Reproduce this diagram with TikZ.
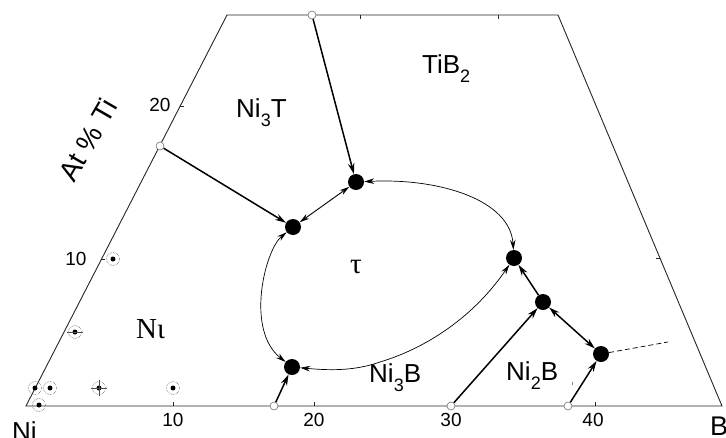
\documentclass[tikz,border=0pt]{standalone}
\usepackage{fontspec}
\setmainfont{Liberation Sans}
\newfontfamily\seriffont{Liberation Serif}
\usetikzlibrary{arrows.meta}

\tikzset{
  frame/.style={draw=black!85, line width=0.9pt},
  tickmark/.style={draw=black!85, line width=0.8pt},
  invariant/.style={circle, fill=black, minimum size=16pt, inner sep=0pt},
  endpt/.style={circle, draw=black!55, fill=white, minimum size=8pt, inner sep=0pt, line width=0.6pt},
  datapt/.style={circle, fill=black, minimum size=5pt, inner sep=0pt},
  halo/.style={circle, draw=black!60, densely dotted, minimum size=13pt, inner sep=0pt, line width=0.6pt},
  valley/.style={line width=1.5pt, -{Stealth[length=11pt,width=6.5pt]}},
  valleyboth/.style={line width=1.5pt, {Stealth[length=11pt,width=6.5pt]}-{Stealth[length=11pt,width=6.5pt]}},
  loopcurve/.style={line width=0.7pt, {Stealth[length=10pt,width=5.5pt]}-{Stealth[length=10pt,width=5.5pt]}},
  phase/.style={font=\fontsize{26}{26}\selectfont, inner sep=0pt, anchor=base west},
  greek/.style={font=\seriffont\fontsize{29}{29}\selectfont, inner sep=0pt, anchor=base west},
  numlab/.style={font=\fontsize{19}{19}\selectfont, inner sep=0pt},
}
% lowered index for phase formulas
\newcommand{\lowidx}[1]{\raisebox{-0.36em}{\fontsize{18}{18}\selectfont #1}}

\begin{document}
\begin{tikzpicture}[x=1pt,y=-1pt]
\useasboundingbox (0,0) rectangle (726,437);

% section outline
\draw[frame] (26,406) -- (722,406) -- (558,15) -- (227,15) -- cycle;

% ticks on the outline
\foreach \tx in {173,314,450,595} \draw[tickmark] (\tx,406) -- (\tx,402);
\foreach \tx in {360,498} \draw[tickmark] (\tx,15) -- (\tx,19);
\draw[tickmark] (101,259) -- (105,259);
\draw[tickmark] (180,106) -- (184,106);
\draw[tickmark] (660,258) -- (656,258);

% scale numbers
\node[numlab] (l10) at (76,259) {10};
\node[numlab] (l20) at (160,105) {20};
\node[numlab] (b10) at (173,420) {10};
\node[numlab] (b20) at (314,420) {20};
\node[numlab] (b30) at (451,420) {30};
\node[numlab] (b40) at (593,420) {40};

% corner and axis labels
\node[font=\fontsize{26}{26}\selectfont, inner sep=0pt, anchor=base west] (ni) at (12,440) {Ni};
\node[font=\fontsize{27}{27}\selectfont, inner sep=0pt, anchor=base west] (bo) at (710,435) {B};
\node[font=\fontsize{28}{28}\selectfont, inner sep=0pt, rotate=60] (axis) at (88,140) {At \% Ti};

% phase fields
\node[phase] (tib2) at (422,73) {TiB\lowidx{2}};
\node[phase] (ni3t) at (236,117) {Ni\lowidx{3}T};
\node[phase] (ni3b) at (369,382) {Ni\lowidx{3}B};
\node[phase] (ni2b) at (506,380) {Ni\lowidx{2}B};
\node[greek] (nisol) at (136,338) {Nι};
\node[greek, anchor=base] (tau) at (356,273) {τ};

% invariant points
\node[invariant] (A) at (356,182) {};
\node[invariant] (Bp) at (293,227) {};
\node[invariant] (C) at (514,258) {};
\node[invariant] (D) at (543,302) {};
\node[invariant] (E) at (601,354) {};
\node[invariant] (F) at (292,367) {};

% binary end points
\node[endpt] (t1) at (312,15) {};
\node[endpt] (s1) at (160,146) {};
\node[endpt] (u1) at (274,406) {};
\node[endpt] (u2) at (451,406) {};
\node[endpt] (u3) at (568,406) {};
\coordinate (dashend) at (668,342);

% monovariant lines
\draw[valley] (t1) -- (A);
\draw[valley] (s1) -- (Bp);
\draw[valley] (u1) -- (F);
\draw[valley] (u2) -- (D);
\draw[valley] (u3) -- (E);
\draw[valley] (D) -- (C);
\draw[valleyboth] (D) -- (E);
\draw[loopcurve, line width=0.9pt] (Bp) -- (A);
\draw[line width=0.7pt, dash pattern=on 5pt off 3pt] (E) -- (dashend);

% boundary of the tau field
\draw[loopcurve] (A) .. controls (440,178) and (510,200) .. (C);
\draw[loopcurve] (Bp) .. controls (265,250) and (245,330) .. (F);
\draw[loopcurve] (F) .. controls (335,371) and (357,370) .. (380,362)
  .. controls (420,350) and (470,322) .. (C);

% experimental alloys
\foreach \n/\px/\py in {p1/113/259, p2/75/332, p3/35/388, p4/50/388, p5/99/388, p6/173/388, p7/39/405} {
  \node[halo] (\n h) at (\px,\py) {};
  \node[datapt] (\n) at (\px,\py) {};
}
\draw[line width=0.5pt, black!70] (67,332) -- (83,332);
\draw[line width=0.5pt, black!70] (91,388) -- (107,388);
\draw[line width=0.5pt, black!70] (99,380) -- (99,396);

% small stray mark
\draw[line width=0.5pt, black!50] (572,382) -- (572,385);
\end{tikzpicture}
\end{document}
